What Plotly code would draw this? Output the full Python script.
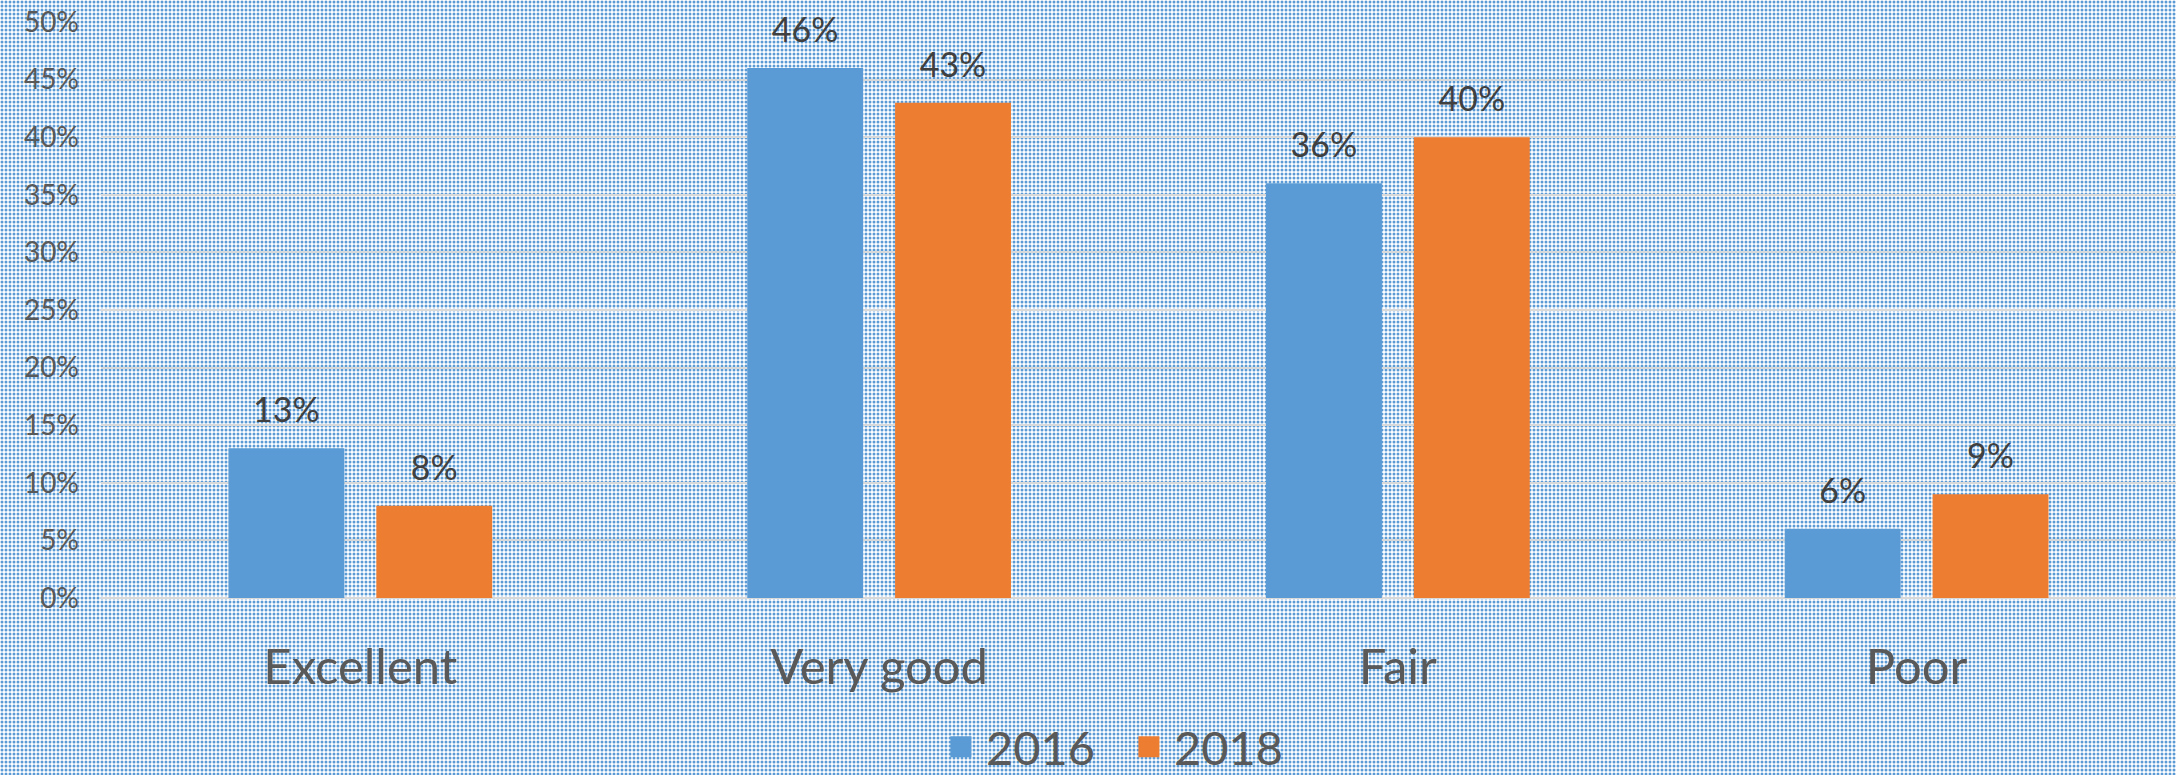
import plotly.graph_objects as go

categories = ["Excellent", "Very good", "Fair", "Poor"]
series_names = ["2016", "2018"]
values_2016 = [0.13, 0.46, 0.36, 0.06]
values_2018 = [0.08, 0.43, 0.40, 0.09]
y_ticks = [0, 0.05, 0.10, 0.15, 0.20, 0.25, 0.30, 0.35, 0.40, 0.45, 0.50]

BLUE = "#5B9BD5"
ORANGE = "#ED7D31"
FONT = "Lato"
LABEL_GAP = 0.014  # vertical gap (data units) between bar top and its value label

fig = go.Figure()

# dotted background fill covering the whole canvas (style layer)
fig.add_trace(go.Bar(
    x=[0.5], y=[1], width=[1], xaxis="x", yaxis="y",
    marker=dict(color="white", line=dict(width=0),
                pattern=dict(shape=".", size=4, solidity=0.45,
                             fgcolor=BLUE, bgcolor="white", fillmode="replace")),
    showlegend=False, hoverinfo="skip",
))

for name, vals, col in [(series_names[0], values_2016, BLUE), (series_names[1], values_2018, ORANGE)]:
    fig.add_trace(go.Bar(
        x=categories, y=vals, name=name, xaxis="x2", yaxis="y2",
        offsetgroup=name,
        marker=dict(color=col, line=dict(width=0)),
        showlegend=False,
    ))
    # transparent spacer on top of each bar carrying the value label
    fig.add_trace(go.Bar(
        x=categories, y=[LABEL_GAP] * len(vals), base=vals, customdata=vals,
        xaxis="x2", yaxis="y2", offsetgroup=name,
        marker=dict(color="rgba(0,0,0,0)", line=dict(width=0)),
        texttemplate="%{customdata:.0%}", textposition="outside",
        textfont=dict(family=FONT, size=34, color="#404040"),
        cliponaxis=False, showlegend=False, hoverinfo="skip",
    ))
    # legend proxy
    fig.add_trace(go.Scatter(
        x=[None], y=[None], name=name, mode="markers", xaxis="x2", yaxis="y2",
        marker=dict(symbol="square", size=16, color=col, line=dict(color=col, width=5)),
    ))

fig.update_layout(
    template="none",
    width=2176, height=775,
    margin=dict(l=0, r=0, t=0, b=0, pad=0, autoexpand=False),
    paper_bgcolor="white",
    plot_bgcolor="rgba(0,0,0,0)",
    barmode="group", bargap=0.43, bargroupgap=0.216,
    font=dict(family=FONT, color="#595959"),
    xaxis=dict(domain=[0, 1], range=[0, 1], visible=False, fixedrange=True, automargin=False),
    yaxis=dict(domain=[0, 1], range=[0, 1], visible=False, fixedrange=True, automargin=False),
    xaxis2=dict(domain=[0.0464, 1.0], anchor="y2", type="category", automargin=False,
                showgrid=False, zeroline=False, showline=False,
                tickfont=dict(family=FONT, size=49, color="#595959"),
                ticks="", ticklabelstandoff=36),
    yaxis2=dict(domain=[0.2284, 0.9716], anchor="x2", range=[0, 0.5], automargin=False,
                tickvals=y_ticks, tickformat=".0%",
                showgrid=True, gridcolor="#D9D9D9", gridwidth=2,
                zeroline=True, zerolinecolor="#D9D9D9", zerolinewidth=2,
                showline=False, ticks="", ticklabelstandoff=21,
                tickfont=dict(family=FONT, size=28, color="#595959")),
    legend=dict(orientation="h", x=0.5165, xanchor="center", y=0.036, yanchor="middle",
                font=dict(family=FONT, size=47, color="#595959"),
                bgcolor="rgba(0,0,0,0)", itemwidth=40, entrywidth=133),
)

fig.write_html(
    "out.html",
    config={"displayModeBar": False},
    post_script=("document.body.style.margin='0';"
                 "document.body.style.overflow='hidden';"
                 "document.documentElement.style.overflow='hidden';"),
)
